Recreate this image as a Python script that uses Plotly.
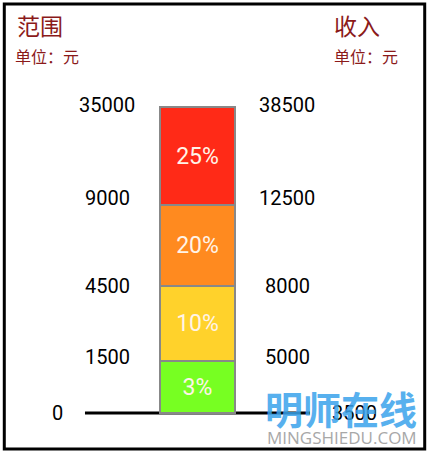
import plotly.graph_objects as go

# 月收入范围 / 税率 阶梯
ranges = ["0", "1500", "4500", "9000", "35000"]
incomes = ["3500", "5000", "8000", "12500", "38500"]
rates = ["3%", "10%", "20%", "25%"]
band_heights = [52, 75, 81, 98]
colors = ["#77FF22", "#FFD22B", "#FF8A1F", "#FF2A17"]

num_font = dict(family="Roboto, DejaVu Sans", size=20, color="black")
cjk = "Noto Sans CJK SC"
title_color = "#8B1A1A"

fig = go.Figure()

# stacked bar segments
for h, c, r in zip(band_heights, colors, rates):
    fig.add_trace(go.Bar(
        x=[0], y=[h], width=1,
        marker=dict(color=c, line=dict(color="#888888", width=1.5)),
        text=[r], textposition="inside", insidetextanchor="middle",
        textfont=dict(family="Roboto, DejaVu Sans", size=23, color="#FFF4E8"),
        hoverinfo="skip", showlegend=False,
    ))

# cumulative boundaries of the bands
bounds = [0]
for h in band_heights:
    bounds.append(bounds[-1] + h)

# labels sit a touch above some boundaries in the original
nudge = [0, 4, 0, 7, 2]

annotations = []
for i, b in enumerate(bounds):
    if i == 0:
        lx, rx = -1.87, 2.1
    else:
        lx, rx = -1.2, 1.2
    annotations.append(dict(x=lx, y=b, text=ranges[i], showarrow=False, yshift=nudge[i],
                            font=num_font, xanchor="center", yanchor="middle"))
    annotations.append(dict(x=rx, y=b, text=incomes[i], showarrow=False, yshift=nudge[i],
                            font=num_font, xanchor="center", yanchor="middle"))

# headers
annotations += [
    dict(xref="paper", yref="paper", x=0.035, y=0.986, text="范围", showarrow=False,
         xanchor="left", yanchor="top", font=dict(family=cjk, size=23, color=title_color)),
    dict(xref="paper", yref="paper", x=0.031, y=0.908, text="单位：元", showarrow=False,
         xanchor="left", yanchor="top", font=dict(family=cjk, size=16, color=title_color)),
    dict(xref="paper", yref="paper", x=0.773, y=0.986, text="收入", showarrow=False,
         xanchor="left", yanchor="top", font=dict(family=cjk, size=23, color=title_color)),
    dict(xref="paper", yref="paper", x=0.773, y=0.908, text="单位：元", showarrow=False,
         xanchor="left", yanchor="top", font=dict(family=cjk, size=16, color=title_color)),
    # watermark
    dict(xref="paper", yref="paper", x=0.796, y=0.1, text="<b>明师在线</b>", showarrow=False,
         xanchor="center", yanchor="middle", opacity=0.85,
         font=dict(family=cjk, size=38, color="#3AA3EC")),
    dict(xref="paper", yref="paper", x=0.798, y=0.035, text="MINGSHIEDU.COM", showarrow=False,
         xanchor="center", yanchor="middle",
         font=dict(family="Open Sans", size=17, color="#A8A8A8")),
]

shapes = [
    dict(type="line", x0=-1.5, x1=1.5, y0=0, y1=0, layer="below",
         line=dict(color="black", width=3)),
    dict(type="rect", xref="paper", yref="paper", x0=0.01, x1=0.99, y0=0.009, y1=0.991,
         line=dict(color="black", width=3)),
]

fig.update_layout(
    barmode="stack",
    width=429, height=453,
    margin=dict(l=0, r=0, t=0, b=0),
    paper_bgcolor="white", plot_bgcolor="white",
    xaxis=dict(range=[-2.633, 3.087], visible=False, fixedrange=True),
    yaxis=dict(range=[-40, 413], visible=False, fixedrange=True),
    annotations=annotations,
    shapes=shapes,
    uniformtext=dict(minsize=18, mode="show"),
)

# drop the page's default body margin so the figure fills the window
fig.write_html("out.html", post_script="document.body.style.margin='0';",
               config={"displayModeBar": False})
